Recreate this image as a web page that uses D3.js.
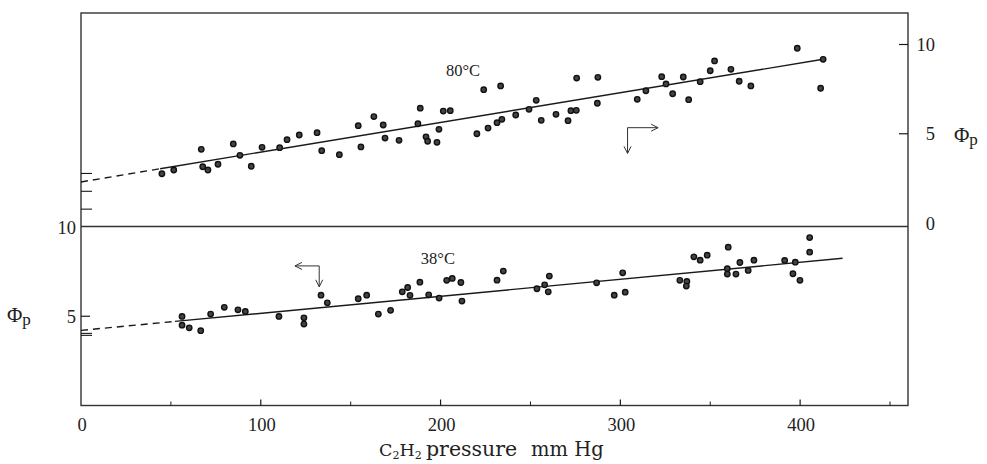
<!DOCTYPE html>
<html>
<head>
<meta charset="utf-8">
<script src="https://cdn.jsdelivr.net/npm/d3@7"></script>
<style>
  html, body { margin: 0; padding: 0; background: #fff; }
  svg text { font-family: "Liberation Serif", "DejaVu Serif", serif; fill: #222; }
  svg text.title { font-family: "DejaVu Serif", "Liberation Serif", serif; }
</style>
</head>
<body>
<svg id="chart" width="987" height="464"></svg>
<script>
// ---------------- DATA ----------------
// 80 °C series (top panel, right axis): [pressure mm Hg, Φp]
const series80 = [
  [45.0,2.76],[51.6,2.97],[66.9,4.13],[67.7,3.15],[70.6,2.97],[76.2,3.29],[84.7,4.43],[88.4,3.79],
  [94.7,3.18],[100.7,4.24],[110.5,4.22],[114.6,4.67],[121.4,4.93],[131.3,5.06],[133.9,4.05],[143.7,3.83],
  [154.2,5.45],[155.7,4.26],[162.9,5.96],[168.1,5.49],[169.1,4.76],[176.9,4.63],[188.7,6.43],[187.4,5.56],
  [191.9,4.83],[192.8,4.58],[198.0,4.52],[199.1,5.25],[201.5,6.27],[205.4,6.29],[220.2,5.00],[224.0,7.47],
  [226.4,5.32],[231.4,5.62],[233.4,7.68],[234.1,5.81],[241.8,6.05],[249.2,6.37],[253.2,6.87],[256.0,5.75],
  [264.2,6.09],[270.9,5.73],[272.5,6.29],[275.5,6.31],[275.7,8.12],[287.5,8.16],[287.2,6.71],[309.4,6.93],
  [314.2,7.41],[323.0,8.20],[325.4,7.79],[329.1,7.24],[335.0,8.18],[338.0,6.91],[344.4,7.92],[350.0,8.53],
  [352.4,9.08],[361.5,8.61],[366.1,7.94],[372.6,7.68],[398.4,9.79],[412.8,9.17],[411.4,7.55]
];
// 38 °C series (bottom panel, left axis): [pressure mm Hg, Φp]
const series38 = [
  [56.2,4.99],[56.2,4.50],[60.2,4.35],[66.6,4.19],[72.1,5.12],[79.7,5.50],[87.3,5.36],[91.4,5.27],
  [110.1,4.99],[124.0,4.91],[124.0,4.56],[133.5,6.18],[137.0,5.75],[154.2,5.98],[158.9,6.18],[165.4,5.12],
  [172.2,5.33],[178.7,6.37],[181.7,6.61],[183.0,6.17],[188.5,6.91],[193.4,6.20],[199.2,6.02],[203.4,7.01],
  [206.5,7.12],[211.3,6.89],[211.9,5.85],[231.4,7.02],[234.9,7.53],[253.6,6.54],[257.9,6.76],[260.5,7.25],
  [259.9,6.37],[286.8,6.87],[296.6,6.18],[301.3,7.43],[302.7,6.35],[333.1,7.01],[337.0,6.95],[336.7,6.69],
  [340.9,8.33],[344.4,8.14],[348.3,8.42],[360.0,8.87],[359.5,7.66],[359.5,7.36],[364.3,7.36],[366.5,8.01],
  [371.1,7.57],[374.3,8.14],[391.4,8.13],[397.3,8.03],[396.0,7.38],[399.9,7.01],[405.3,9.41],[405.3,8.59]
];
// Fitted lines: dashed extrapolation then solid fit
const fit80Dashed = [[0,2.30],[44,3.04]];
const fit80Solid  = [[44,3.04],[412.8,9.17]];
const fit38Dashed = [[0,4.21],[52.3,4.71]];
const fit38Solid  = [[52.3,4.71],[423.6,8.25]];

// Axis ticks / labels
const xMajorTicks = [0,100,200,300,400];
const xMinorTicks = [50,150,250,350,450];
const xTickMarks = [100,200,300,400];
const rightTicks = [0,5,10];          // top panel (80 °C)
const rightTickMarks = [5,10];
const leftTicks = [5,10];             // bottom panel (38 °C)
const leftTickMarks = [5];
const leftExtraMarks = [3.93,4.04,11,12,13]; // small marks on left edge (bottom-panel scale)

// Annotations
const label80 = {x:203, y:8.24, text:"80°C"};
const label38 = {x:189, y:7.92, text:"38°C"};
const arrow80 = {corner:[304,5.34], hEnd:321, vEnd:3.9};  // points right & down (right axis)
const arrow38 = {corner:[132.5,7.82], hEnd:119, vEnd:6.65}; // points left & down (left axis)

// ---------------- SCALES ----------------
const svg = d3.select("#chart");
const x = d3.scaleLinear().domain([0,460]).range([81,908]);
const yTop = d3.scaleLinear().domain([0,10]).range([223,44.5]);
const yBot = d3.scaleLinear().domain([0,10]).range([405.5,227]);
const frameTop = 13, divider = 226.5;

const ink = "#1a1a1a";

// Frame
svg.append("rect").attr("x",x(0)).attr("y",frameTop)
  .attr("width",x(460)-x(0)).attr("height",yBot(0)-frameTop)
  .attr("fill","none").attr("stroke","#333").attr("stroke-width",1.4);
svg.append("line").attr("x1",x(0)).attr("x2",x(460)).attr("y1",divider).attr("y2",divider)
  .attr("stroke","#333").attr("stroke-width",1.4);

// X axis ticks (inward)
svg.selectAll(".xt").data(xTickMarks).enter().append("line")
  .attr("x1",d=>x(d)).attr("x2",d=>x(d)).attr("y1",yBot(0)).attr("y2",yBot(0)-6)
  .attr("stroke",ink).attr("stroke-width",1.2);
svg.selectAll(".xm").data(xMinorTicks).enter().append("line")
  .attr("x1",d=>x(d)).attr("x2",d=>x(d)).attr("y1",yBot(0)).attr("y2",yBot(0)-4)
  .attr("stroke",ink).attr("stroke-width",1);
svg.selectAll(".xl").data(xMajorTicks).enter().append("text")
  .attr("x",d=>x(d)+1).attr("y",431).attr("text-anchor","middle")
  .attr("font-size",18.5).text(d=>d);

// X axis title with subscripts
const xt1 = svg.append("text").attr("class","title").attr("x",379).attr("y",456).attr("font-size",17.5);
xt1.append("tspan").text("C");
xt1.append("tspan").attr("font-size",11).attr("dy",3).text("2");
xt1.append("tspan").attr("dy",-3).text("H");
xt1.append("tspan").attr("font-size",11).attr("dy",3).text("2");
svg.append("text").attr("class","title").attr("x",426).attr("y",456).attr("font-size",20.5).text("pressure");
svg.append("text").attr("class","title").attr("x",531).attr("y",456).attr("font-size",19.5).text("mm Hg");

// Right axis (top panel)
svg.selectAll(".rt").data(rightTickMarks).enter().append("line")
  .attr("x1",x(460)).attr("x2",x(460)-9).attr("y1",d=>yTop(d)).attr("y2",d=>yTop(d))
  .attr("stroke",ink).attr("stroke-width",1.2);
svg.selectAll(".rl").data(rightTicks).enter().append("text")
  .attr("x",935).attr("y",d=>yTop(d)+6.5).attr("text-anchor","end")
  .attr("font-size",18.5).text(d=>d);
const rPhi = svg.append("text").attr("x",954).attr("y",yTop(5)+8).attr("font-size",21);
rPhi.append("tspan").text("Φ");
rPhi.append("tspan").attr("font-size",17).attr("dy",3).text("p");

// Left axis (bottom panel)
svg.selectAll(".lt").data(leftTickMarks).enter().append("line")
  .attr("x1",x(0)).attr("x2",x(0)+9).attr("y1",d=>yBot(d)).attr("y2",d=>yBot(d))
  .attr("stroke",ink).attr("stroke-width",1.2);
svg.selectAll(".le").data(leftExtraMarks).enter().append("line")
  .attr("x1",x(0)).attr("x2",x(0)+11).attr("y1",d=>yBot(d)).attr("y2",d=>yBot(d))
  .attr("stroke",ink).attr("stroke-width",1.1);
svg.selectAll(".ll").data(leftTicks).enter().append("text")
  .attr("x",76).attr("y",d=>yBot(d)+6.5).attr("text-anchor","end")
  .attr("font-size",18.5).text(d=>d);
const lPhi = svg.append("text").attr("x",7).attr("y",yBot(5)+6).attr("font-size",21);
lPhi.append("tspan").text("Φ");
lPhi.append("tspan").attr("font-size",17).attr("dy",3).text("p");

// Fit lines
const lineTop = d3.line().x(d=>x(d[0])).y(d=>yTop(d[1]));
const lineBot = d3.line().x(d=>x(d[0])).y(d=>yBot(d[1]));
svg.append("path").attr("d",lineTop(fit80Dashed)).attr("fill","none").attr("stroke",ink)
  .attr("stroke-width",1.4).attr("stroke-dasharray","7,5");
svg.append("path").attr("d",lineTop(fit80Solid)).attr("fill","none").attr("stroke",ink).attr("stroke-width",1.4);
svg.append("path").attr("d",lineBot(fit38Dashed)).attr("fill","none").attr("stroke",ink)
  .attr("stroke-width",1.4).attr("stroke-dasharray","7,5");
svg.append("path").attr("d",lineBot(fit38Solid)).attr("fill","none").attr("stroke",ink).attr("stroke-width",1.4);

// Points
svg.selectAll(".p80").data(series80).enter().append("circle")
  .attr("cx",d=>x(d[0])).attr("cy",d=>yTop(d[1])).attr("r",2.7)
  .attr("fill","#444").attr("stroke","#111").attr("stroke-width",1.4);
svg.selectAll(".p38").data(series38).enter().append("circle")
  .attr("cx",d=>x(d[0])).attr("cy",d=>yBot(d[1])).attr("r",2.7)
  .attr("fill","#444").attr("stroke","#111").attr("stroke-width",1.4);

// Temperature labels
svg.append("text").attr("x",x(label80.x)).attr("y",yTop(label80.y)).attr("font-size",16.5).text(label80.text);
svg.append("text").attr("x",x(label38.x)).attr("y",yBot(label38.y)).attr("font-size",16.5).text(label38.text);

// Arrows
function drawArrow(a, ys, dirH) {
  const cx = x(a.corner[0]), cy = ys(a.corner[1]);
  const hx = x(a.hEnd), vy = ys(a.vEnd);
  const g = svg.append("g").attr("stroke","#333").attr("stroke-width",1).attr("fill","none");
  g.append("line").attr("x1",cx).attr("y1",cy).attr("x2",hx).attr("y2",cy);
  g.append("line").attr("x1",cx).attr("y1",cy).attr("x2",cx).attr("y2",vy);
  const s = dirH; // +1 right, -1 left
  g.append("path").attr("d",`M${hx - s*7},${cy-3.5} L${hx},${cy} L${hx - s*7},${cy+3.5}`);
  g.append("path").attr("d",`M${cx-3.5},${vy-7} L${cx},${vy} L${cx+3.5},${vy-7}`);
}
drawArrow(arrow80, yTop, 1);
drawArrow(arrow38, yBot, -1);
</script>
</body>
</html>
